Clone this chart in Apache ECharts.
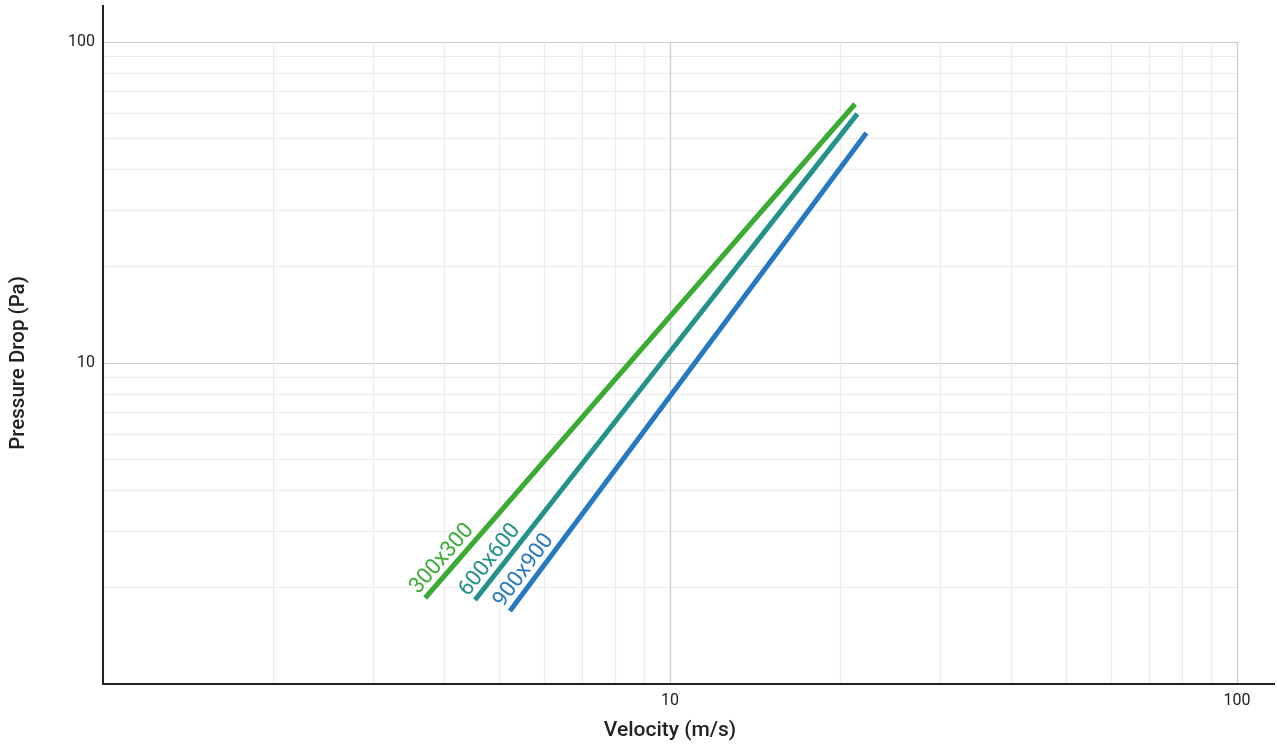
<!DOCTYPE html>
<html>
<head>
<meta charset="utf-8">
<script src="https://cdn.jsdelivr.net/npm/echarts@6/dist/echarts.min.js"></script>
<style>
html,body{margin:0;padding:0;background:#fff;}
#chart{width:1277px;height:749px;}
</style>
</head>
<body>
<div id="chart"></div>
<script>
// Data (log-log)
const seriesNames = ['300x300', '600x600', '900x900'];
const velocity300 = [3.70, 8.48, 21.2];
const pressure300 = [1.853, 10, 64.1];
const velocity600 = [4.53, 9.65, 21.4];
const pressure600 = [1.827, 10, 59.7];
const velocity900 = [5.22, 11.06, 22.2];
const pressure900 = [1.689, 10, 52.1];
const xTicks = [1, 10, 100];
const yTicks = [1, 10, 100];

const colors = ['#3aab33', '#22928a', '#2678c1'];
const labelRotate = [49, 51.8, 53.3];

function buildData(xs, ys, idx) {
  return xs.map((x, i) => {
    const item = { value: [x, ys[i]] };
    if (i === 0) {
      item.label = {
        show: true,
        formatter: seriesNames[idx],
        position: 'inside',
        align: 'left',
        verticalAlign: 'bottom',
        rotate: labelRotate[idx],
        color: colors[idx],
        fontSize: 22,
        fontFamily: 'Roboto',
        padding: [0, 0, 2, -2]
      };
    }
    return item;
  });
}

const xs = [velocity300, velocity600, velocity900];
const ys = [pressure300, pressure600, pressure900];

const chart = echarts.init(document.getElementById('chart'), null, { renderer: 'canvas' });
const option = {
  backgroundColor: '#ffffff',
  animation: false,
  grid: { left: 103, right: 40, top: 42, bottom: 65, containLabel: false },
  xAxis: {
    type: 'log',
    logBase: 10,
    min: xTicks[0],
    max: xTicks[xTicks.length - 1],
    name: 'Velocity (m/s)',
    nameLocation: 'middle',
    nameGap: 36,
    nameTextStyle: { fontFamily: 'Roboto', fontSize: 21, fontWeight: 500, color: '#222' },
    axisLine: {
      show: true,
      lineStyle: { color: '#222', width: 2 },
      symbol: ['none', 'rect'],
      symbolSize: [2, 38],
      symbolOffset: [0, 19]
    },
    axisTick: { show: false },
    axisLabel: { showMinLabel: false, fontFamily: 'Roboto', fontSize: 16, color: '#222', margin: 9 },
    splitLine: { show: true, lineStyle: { color: '#cccccc', width: 1.2 } },
    minorTick: { show: false, splitNumber: 9 },
    minorSplitLine: { show: true, lineStyle: { color: '#ebebeb', width: 1.2 } }
  },
  yAxis: {
    type: 'log',
    logBase: 10,
    min: yTicks[0],
    max: yTicks[yTicks.length - 1],
    name: 'Pressure Drop (Pa)',
    nameLocation: 'middle',
    nameGap: 74,
    nameTextStyle: { fontFamily: 'Roboto', fontSize: 20.5, fontWeight: 500, color: '#222' },
    axisLine: {
      show: true,
      lineStyle: { color: '#222', width: 2 },
      symbol: ['none', 'rect'],
      symbolSize: [2, 37],
      symbolOffset: [0, 18.5]
    },
    axisTick: { show: false },
    axisLabel: { showMinLabel: false, fontFamily: 'Roboto', fontSize: 16, color: '#222', margin: 8 },
    splitLine: { show: true, lineStyle: { color: '#cccccc', width: 1.2 } },
    minorTick: { show: false, splitNumber: 9 },
    minorSplitLine: { show: true, lineStyle: { color: '#ebebeb', width: 1.2 } }
  },
  series: seriesNames.map((name, i) => ({
    name: name,
    type: 'line',
    data: buildData(xs[i], ys[i], i),
    showSymbol: true,
    symbol: 'circle',
    symbolSize: 0.01,
    itemStyle: { color: colors[i] },
    lineStyle: { color: colors[i], width: 5, cap: 'butt' },
    emphasis: { disabled: true },
    z: 3 + i
  }))
};
chart.setOption(option);
</script>
</body>
</html>
